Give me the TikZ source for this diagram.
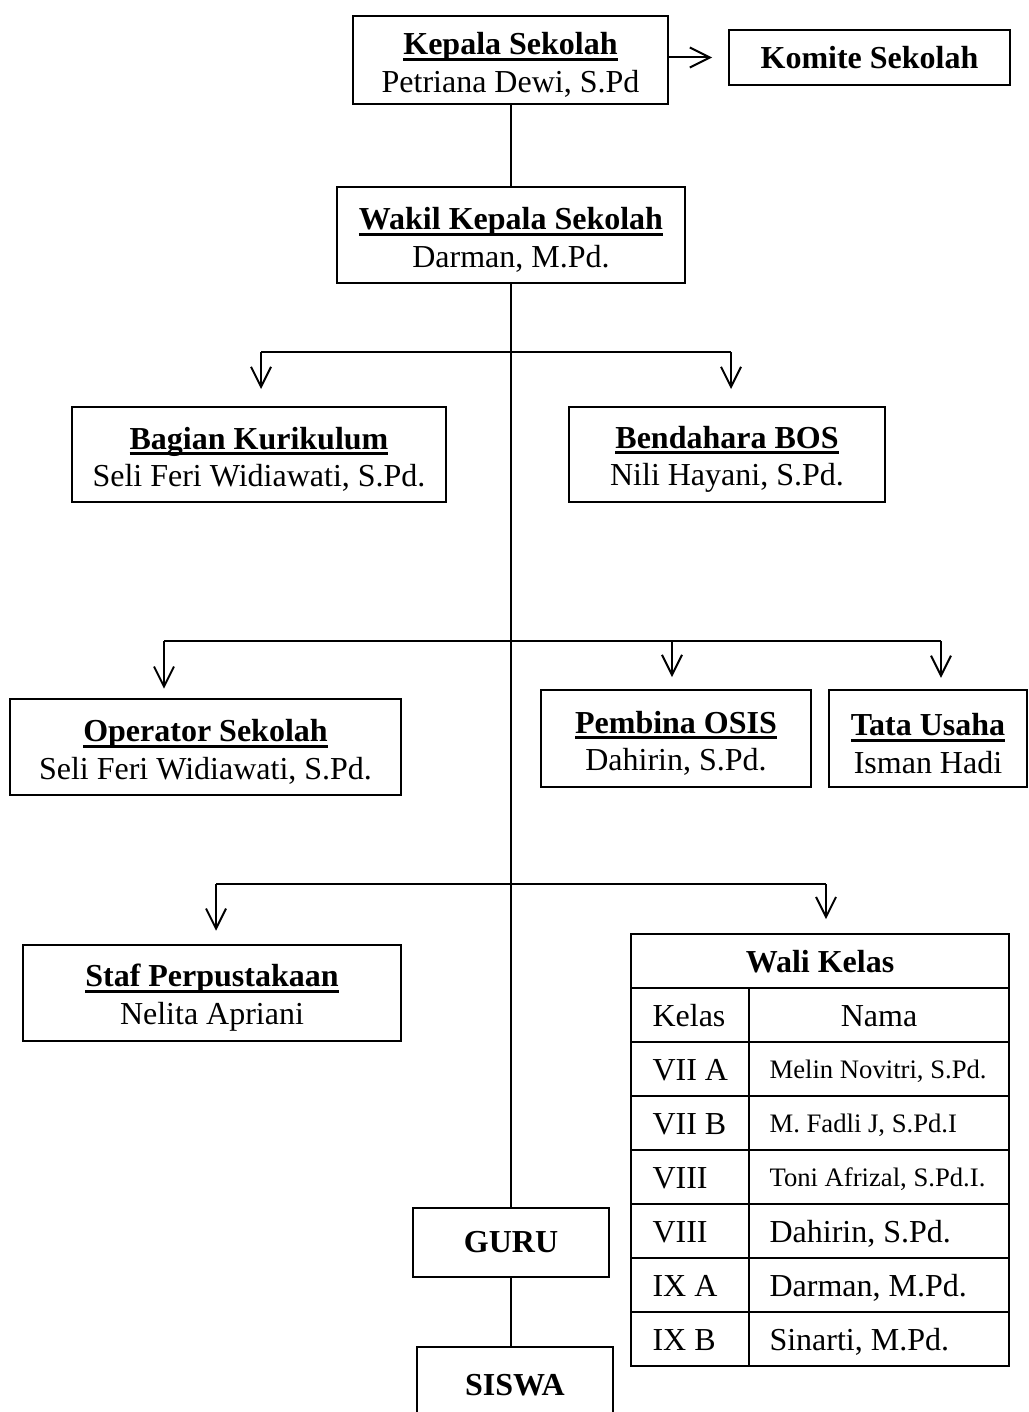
\documentclass[tikz,border=0pt]{standalone}
\usepackage{fontspec}
\setmainfont{Liberation Serif}
\usetikzlibrary{arrows.meta}
\newcommand\myul[1]{\setbox0\hbox{#1}\rlap{\rule[-2.2pt]{\wd0}{1.1pt}}\box0}
\newcommand\ttl[1]{\rule{0pt}{12pt}\myul{\textbf{#1}}}
\begin{document}
\begin{tikzpicture}[x=0.375pt,y=-0.375pt,
  box/.style={draw, line width=0.7pt, inner sep=0pt, align=center, font=\fontsize{12}{14}\selectfont},
  wh/.style 2 args={minimum width=#1*0.375pt, minimum height=#2*0.375pt},
  ln/.style={line width=0.75pt},
  arr/.style={ln, -{Straight Barb[length=7.5pt,width=7.5pt]}},
  cellbig/.style={inner sep=0pt, anchor=base west, font=\fontsize{12}{14}\selectfont},
  cellsmall/.style={inner sep=0pt, anchor=base west, font=\fontsize{10}{12}\selectfont},
  tline/.style={line width=0.7pt}
]
\useasboundingbox (0,0) rectangle (1028,1412);
\clip (0,0) rectangle (1028,1412);

% boxes
\node[box, wh={315}{88}] (kepala) at (510.5,60) {\ttl{Kepala Sekolah}\\Petriana Dewi, S.Pd};
\node[box, wh={281}{55}] (komite) at (869.5,57.5) {\textbf{Komite Sekolah}};
\node[box, wh={348}{96}] (wakil) at (511,235) {\ttl{Wakil Kepala Sekolah}\\Darman, M.Pd.};
\node[box, wh={374}{95}] (kurikulum) at (259,454.5) {\ttl{Bagian Kurikulum}\\Seli Feri Widiawati, S.Pd.};
\node[box, wh={316}{95}] (bendahara) at (727,454.5) {\ttl{Bendahara BOS}\\Nili Hayani, S.Pd.};
\node[box, wh={391}{96}] (operator) at (205.5,747) {\ttl{Operator Sekolah}\\Seli Feri Widiawati, S.Pd.};
\node[box, wh={270}{97}] (pembina) at (676,738.5) {\ttl{Pembina OSIS}\\Dahirin, S.Pd.};
\node[box, wh={198}{97}] (tata) at (928,738.5) {\ttl{Tata Usaha}\\Isman Hadi};
\node[box, wh={378}{96}] (staf) at (212,993) {\ttl{Staf Perpustakaan}\\Nelita Apriani};
\node[box, wh={196}{69}] (guru) at (511,1242.5) {\textbf{GURU}};
\node[box, wh={196}{76}] (siswa) at (515,1385) {\textbf{SISWA}};

% table
\node[box, wh={378}{432}] (wali) at (820,1150) {};
\foreach \yy in {988,1042,1096,1150,1204,1258,1312}
  \draw[tline] (wali.west |- 0,\yy) -- (wali.east |- 0,\yy);
\draw[tline] (749,988) -- (749 ,1366);
\node[inner sep=0pt, anchor=base, font=\fontsize{12}{14}\selectfont\bfseries] (wtitle) at (820,972) {Wali Kelas};
\node[cellbig] (k0) at (652,1026) {Kelas};
\node[inner sep=0pt, anchor=base, font=\fontsize{12}{14}\selectfont] (n0) at (879,1026) {Nama};
\node[cellbig] (k1) at (652,1080) {VII A};
\node[cellsmall] (n1) at (769,1078) {Melin Novitri, S.Pd.};
\node[cellbig] (k2) at (652,1134) {VII B};
\node[cellsmall] (n2) at (769,1132) {M. Fadli J, S.Pd.I};
\node[cellbig] (k3) at (652,1188) {VIII};
\node[cellsmall] (n3) at (769,1186) {Toni Afrizal, S.Pd.I.};
\node[cellbig] (k4) at (652,1242) {VIII};
\node[cellbig] (n4) at (769,1242) {Dahirin, S.Pd.};
\node[cellbig] (k5) at (652,1296) {IX A};
\node[cellbig] (n5) at (769,1296) {Darman, M.Pd.};
\node[cellbig] (k6) at (652,1350) {IX B};
\node[cellbig] (n6) at (769,1350) {Sinarti, M.Pd.};

% connectors
\draw[arr, shorten >=6pt] (kepala.east |- komite.west) -- (komite.west);
\draw[ln] (kepala.south) -- (kepala.south |- wakil.north);
\draw[ln] (wakil.south) -- (wakil.south |- guru.north);
\draw[ln] (guru.south) -- (guru.south |- siswa.north);

\coordinate (b1l) at (261,352);
\coordinate (b1r) at (731,352);
\draw[ln] (b1l) -- (b1r);
\draw[arr, shorten >=6.4pt] (b1l) -- (b1l |- kurikulum.north);
\draw[arr, shorten >=6.4pt] (b1r) -- (b1r |- bendahara.north);

\coordinate (b2l) at (164,641);
\coordinate (b2m) at (672,641);
\coordinate (b2r) at (941,641);
\draw[ln] (b2l) -- (b2r);
\draw[arr, shorten >=3.5pt] (b2l) -- (b2l |- operator.north);
\draw[arr, shorten >=4.5pt] (b2m) -- (b2m |- pembina.north);
\draw[arr, shorten >=4.2pt] (b2r) -- (b2r |- tata.north);

\coordinate (b3l) at (216,884);
\coordinate (b3r) at (826,884);
\draw[ln] (b3l) -- (b3r);
\draw[arr, shorten >=5pt] (b3l) -- (b3l |- staf.north);
\draw[arr, shorten >=5.2pt] (b3r) -- (b3r |- wali.north);
\end{tikzpicture}
\end{document}
